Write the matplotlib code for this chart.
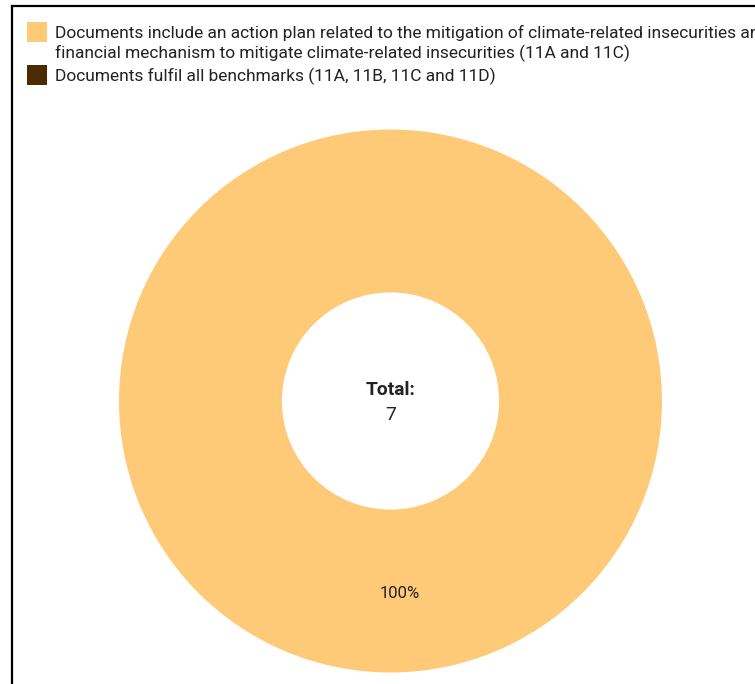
import matplotlib
matplotlib.use("Agg")
import numpy as np
import matplotlib.pyplot as plt
from matplotlib.patches import Rectangle
from matplotlib.lines import Line2D

# Data
categories = [
    "Documents include an action plan related to the mitigation of climate-related insecurities and a\n"
    "financial mechanism to mitigate climate-related insecurities (11A and 11C)",
    "Documents fulfil all benchmarks (11A, 11B, 11C and 11D)",
]
counts = [7, 0]
colors = ["#FFCA78", "#4B2B02"]

plt.rcParams["font.family"] = ["Roboto", "DejaVu Sans"]

W, H = 755, 684
fig = plt.figure(figsize=(W / 100, H / 100), dpi=100)


def fx(px):
    return px / W


def fy(py):
    return 1 - py / H


# outer frame (cut off at right and bottom)
fig.add_artist(Line2D([fx(12), fx(12)], [fy(6), fy(700)], color="black", lw=1.6))
fig.add_artist(Line2D([fx(12), fx(760)], [fy(6), fy(6)], color="black", lw=1.6))

# legend drawn by hand so the swatch sits on the first line
row_tops = [22, 65]
line_gap = 20
for top, label, col in zip(row_tops, categories, colors):
    fig.add_artist(Rectangle((fx(27), fy(top + 20)), 20 / W, 20 / H,
                             facecolor=col, edgecolor="none", transform=fig.transFigure))
    for i, line in enumerate(label.split("\n")):
        fig.text(fx(55), fy(top + 16 + i * line_gap), line, fontsize=12.5,
                 color="#222222", va="baseline", ha="left")

# donut
cx, cy, r = 390.5, 401, 271.5
ax = fig.add_axes([fx(cx - r), fy(cy + r), 2 * r / W, 2 * r / H])
total = sum(counts)
wedges, _ = ax.pie(counts, colors=colors, startangle=90, counterclock=False,
                   radius=1, wedgeprops=dict(width=0.6, edgecolor="none"))
ax.set_xlim(-1, 1)
ax.set_ylim(-1, 1)
ax.axis("off")

for w, c in zip(wedges, counts):
    if c == 0:
        continue
    ang = np.deg2rad((w.theta1 + w.theta2) / 2)
    ax.text(0.7 * np.cos(ang) + 0.035, 0.7 * np.sin(ang) - 0.01, f"{c / total:.0%}",
            ha="center", va="center", fontsize=12, color="#222222")

ax.text(0, 0.04, "Total:", ha="center", va="center", fontsize=13.8,
        fontweight="bold", color="#222222")
ax.text(0, -0.05, str(total), ha="center", va="center", fontsize=13.8, color="#222222")

fig.savefig("out.png", dpi=100)
